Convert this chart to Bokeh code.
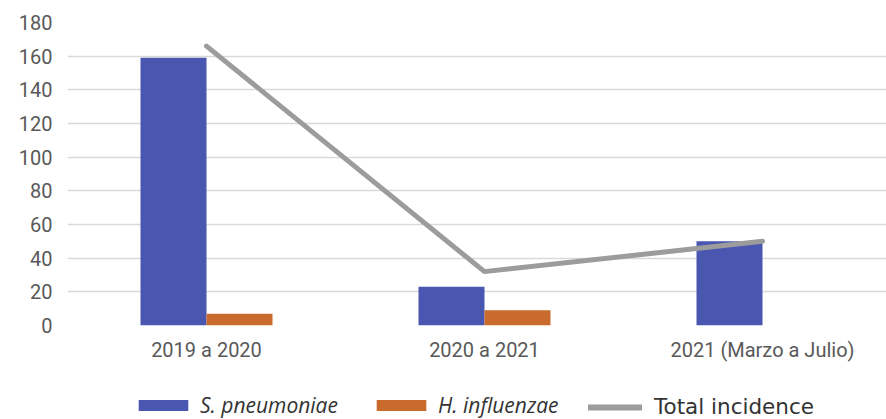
from bokeh.plotting import figure
from bokeh.layouts import column
from bokeh.models import Range1d, Legend, LegendItem, ColumnDataSource
from bokeh.transform import dodge
from bokeh.embed import file_html
from bokeh.resources import INLINE

categories = ["2019 a 2020", "2020 a 2021", "2021 (Marzo a Julio)"]
s_pneumoniae = [159, 23, 50]
h_influenzae = [7, 9, 0]
total_incidence = [166, 32, 50]
y_ticks = [0, 20, 40, 60, 80, 100, 120, 140, 160, 180]

BLUE = "#4957B1"
ORANGE = "#C96B2C"
GRAY = "#9C9C9C"
TEXT = "#595959"
FONT = "Roboto"

xpos = [i + 0.5 for i in range(len(categories))]
source = ColumnDataSource(dict(x=xpos, spn=s_pneumoniae, hin=h_influenzae, tot=total_incidence))

W = 886
cat_px = 278.0
left = 67
frame_w = W - left
p = figure(width=W, height=370, output_backend="svg", toolbar_location=None,
           x_range=Range1d(0, frame_w / cat_px), y_range=Range1d(0, 180),
           min_border_left=left, min_border_right=0, min_border_top=22, min_border_bottom=45)
p.outline_line_color = None

bw = 66 / cat_px
r_blue = p.vbar(x=dodge("x", -bw / 2, range=p.x_range), top="spn", width=bw, source=source,
                fill_color=BLUE, line_color=None)
r_orange = p.vbar(x=dodge("x", bw / 2, range=p.x_range), top="hin", width=bw, source=source,
                  fill_color=ORANGE, line_color=None)
r_line = p.line(x="x", y="tot", source=source, line_color=GRAY, line_width=5, line_cap="round")

p.xgrid.grid_line_color = None
p.ygrid.grid_line_color = "#D9D9D9"
p.ygrid.grid_line_width = 1.5
p.yaxis.ticker = y_ticks
p.xaxis.ticker = xpos
p.xaxis.major_label_overrides = {x: c for x, c in zip(xpos, categories)}

for ax in (p.xaxis, p.yaxis):
    ax.axis_line_color = None
    ax.major_tick_line_color = None
    ax.minor_tick_line_color = None
    ax.major_tick_out = 0
    ax.major_tick_in = 0
    ax.major_label_text_font = FONT
    ax.major_label_text_font_size = "20px"
    ax.major_label_text_color = TEXT
p.xaxis.major_label_standoff = 12
p.yaxis.major_label_standoff = 15

# legend strip below the chart (its frame is aligned with the chart's frame)
lh = 49
q = figure(width=W, height=lh, output_backend="svg", toolbar_location=None,
           x_range=Range1d(0, 1), y_range=Range1d(0, 1),
           x_axis_location=None, y_axis_location=None,
           min_border_left=0, min_border_right=0, min_border_top=0, min_border_bottom=0)
q.outline_line_color = None
q.grid.visible = False
# legend-only renderers of zero size (draw nothing themselves)
lb = q.vbar(x=[0.5], top=[0], bottom=[0], width=0, fill_color=BLUE, line_color=None)
lo = q.vbar(x=[0.5], top=[0], bottom=[0], width=0, fill_color=ORANGE, line_color=None)
ll = q.line(x=[0.5], y=[0.5], line_color=GRAY, line_width=6, line_cap="round")

leg1 = Legend(items=[LegendItem(label="S. pneumoniae", renderers=[lb]),
                     LegendItem(label="H. influenzae", renderers=[lo])],
              location=(132 - left, 0), orientation="horizontal")
leg1.glyph_width = 62
leg1.glyph_height = 14
leg1.label_standoff = 6
leg1.spacing = 32
leg1.label_text_font = "Open Sans"
leg1.label_text_font_size = "21px"
leg1.label_text_font_style = "italic"

leg2 = Legend(items=[LegendItem(label="Total incidence", renderers=[ll])],
              location=(588 - left, 0), orientation="horizontal")
leg2.glyph_width = 54
leg2.glyph_height = 14
leg2.label_standoff = 12
leg2.label_text_font = "DejaVu Sans"
leg2.label_text_font_size = "21.5px"

for lg in (leg1, leg2):
    lg.padding = 0
    lg.margin = 0
    lg.border_line_color = None
    lg.background_fill_alpha = 0
    lg.label_text_color = "#333333"
    lg.label_height = 18
    q.add_layout(lg, "center")

open("out.html", "w").write(file_html(column(p, q, spacing=0), INLINE))
